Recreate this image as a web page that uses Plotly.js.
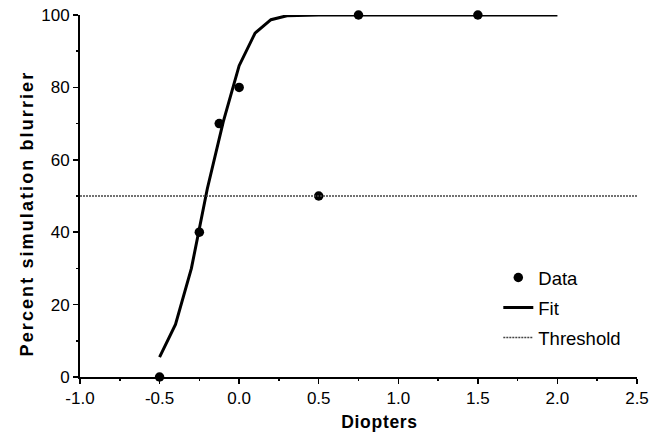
<!DOCTYPE html>
<html>
<head>
<meta charset="utf-8">
<script src="https://cdn.plot.ly/plotly-3.0.1.min.js"></script>
<style>
html,body{margin:0;padding:0;background:#fff;}
#chart{width:663px;height:432px;}
.annotation[data-index="0"] text{letter-spacing:2.1px;}
.annotation[data-index="1"] text{letter-spacing:0.7px;}
</style>
</head>
<body>
<div id="chart"></div>
<script>
// Data points
const dataX = [-0.5, -0.25, -0.125, 0.0, 0.5, 0.75, 1.5];
const dataY = [0, 40, 70, 80, 50, 100, 100];
// Fitted curve
const fitX = [-0.5, -0.4, -0.3, -0.2, -0.1, 0.0, 0.1, 0.2, 0.3, 0.4, 0.5, 1.0, 1.5, 2.0];
const fitY = [5.5, 14.5, 30, 52, 70.5, 86, 95, 98.7, 99.8, 100, 100, 100, 100, 100];
// Threshold line
const thrX = [-1.0, 2.5];
const thrY = [50, 50];
// Tick labels
const xTickVals = [-1.0, -0.5, 0.0, 0.5, 1.0, 1.5, 2.0, 2.5];
const xTickText = ["-1.0", "-0.5", "0.0", "0.5", "1.0", "1.5", "2.0", "2.5"];
const yTickVals = [0, 20, 40, 60, 80, 100];
// Axis titles
const xTitle = 'Diopters';
const yTitle = 'Percent simulation blurrier';

const font = "Liberation Sans, Arial, Helvetica, sans-serif";

const traces = [
  {x: dataX, y: dataY, type: 'scatter', mode: 'markers', name: 'Data', legendgroup: 'a',
   marker: {color: '#000', size: 9.5}, cliponaxis: false},
  {x: fitX, y: fitY, type: 'scatter', mode: 'lines', name: 'Fit', legendgroup: 'b',
   line: {color: '#000', width: 3}, cliponaxis: false},
  {x: thrX, y: thrY, type: 'scatter', mode: 'lines', name: 'Threshold', legendgroup: 'c',
   line: {color: '#444', width: 1.5, dash: '2px,1px'}, cliponaxis: false}
];

const layout = {
  width: 663, height: 432,
  margin: {l: 80, r: 26, t: 15, b: 55},
  paper_bgcolor: '#fff', plot_bgcolor: '#fff',
  font: {family: font, color: '#000', size: 17},
  showlegend: true,
  legend: {x: 0.751, y: 0.326, xanchor: 'left', yanchor: 'top',
           bgcolor: 'rgba(0,0,0,0)', font: {size: 18.5, family: font},
           traceorder: 'grouped', tracegroupgap: 3, itemwidth: 30},
  xaxis: {
    range: [-1.0, 2.5], tickvals: xTickVals, ticktext: xTickText,
    ticks: 'outside', ticklen: 5, tickwidth: 1.5, tickcolor: '#000',
    showline: true, linecolor: '#000', linewidth: 2, showgrid: false, zeroline: false,
    minor: {dtick: 0.25, tick0: 0, ticks: 'outside', ticklen: 2, tickwidth: 1.5, tickcolor: '#000', showgrid: false},
    tickfont: {size: 17, family: font}
  },
  yaxis: {
    range: [0, 100], tickvals: yTickVals,
    ticks: 'outside', ticklen: 5, tickwidth: 1.5, tickcolor: '#000',
    showline: true, linecolor: '#000', linewidth: 2, showgrid: false, zeroline: false,
    minor: {dtick: 10, tick0: 0, ticks: 'outside', ticklen: 2, tickwidth: 1.5, tickcolor: '#000', showgrid: false},
    tickfont: {size: 17, family: font}
  },
  annotations: [
    {text: '<b>' + yTitle + '</b>', textangle: -90, xref: 'paper', yref: 'paper',
     x: 0, y: 0.45, xanchor: 'center', yanchor: 'middle', xshift: -53, showarrow: false,
     font: {size: 18, family: font, color: '#000'}},
    {text: '<b>' + xTitle + '</b>', xref: 'paper', yref: 'paper',
     x: 0.537, y: 0, xanchor: 'center', yanchor: 'middle', yshift: -45, showarrow: false,
     font: {size: 17.5, family: font, color: '#000'}}
  ]
};

Plotly.newPlot('chart', traces, layout, {displayModeBar: false, staticPlot: true});
</script>
</body>
</html>
